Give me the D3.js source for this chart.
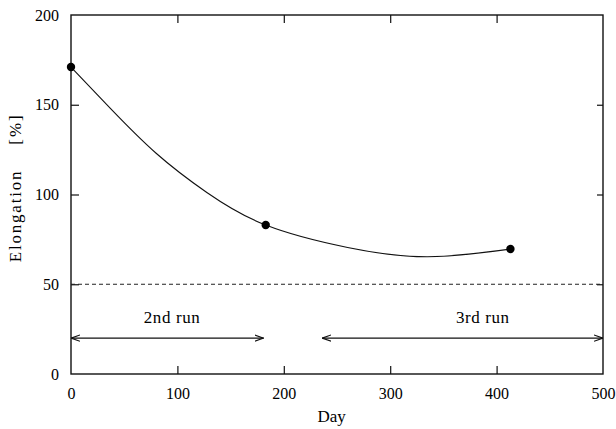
<!DOCTYPE html>
<html>
<head>
<meta charset="utf-8">
<script src="https://cdn.jsdelivr.net/npm/d3@7"></script>
<style>
  body { margin: 0; background: #fff; }
  text { font-family: "Liberation Serif", "DejaVu Serif", serif; fill: #000; }
</style>
</head>
<body>
<div id="chart-area"></div>
<script>
const FONT_SIZE = 16;

// measured points
const days = [0, 183, 413];
const elong = [171, 83, 69.6];

// fitted curve
const curveDays = [0, 37, 80, 128, 183, 260, 335, 413];
const curveElong = [171, 148, 123, 101, 83, 70.5, 65.3, 69.6];

const xTicks = [0, 100, 200, 300, 400, 500];
const yTicks = [0, 50, 100, 150, 200];

const limitValue = 50;
const runs = [
    {label: "2nd run", from: 0, to: 181, y: 20, labelAt: 95},
    {label: "3rd run", from: 236, to: 500, y: 20, labelAt: 387}
];

let totalWidth = 616, totalHeight = 429;
let margin = {top: 15, right: 13, bottom: 55, left: 71};
let width = totalWidth - margin.left - margin.right;
let height = totalHeight - margin.top - margin.bottom;

const svg = d3.select("#chart-area").append("svg")
    .attr("width", totalWidth)
    .attr("height", totalHeight);

svg.append("defs").append("marker")
    .attr("id", "head")
    .attr("viewBox", "0 0 10 10")
    .attr("refX", 10).attr("refY", 5)
    .attr("markerWidth", 9).attr("markerHeight", 9)
    .attr("markerUnits", "userSpaceOnUse")
    .attr("orient", "auto-start-reverse")
    .append("path")
    .attr("d", "M0,1.5 L10,5 L0,8.5")
    .attr("fill", "none")
    .attr("stroke", "#111")
    .attr("stroke-width", 1.3);

const g = svg.append("g").attr("transform", `translate(${margin.left},${margin.top})`);

const x = d3.scaleLinear().domain([0, 500]).range([0, width]);
const y = d3.scaleLinear().domain([0, 200]).range([height, 0]);

//Frame
g.append("rect")
    .attr("width", width).attr("height", height)
    .attr("fill", "none").attr("stroke", "#111").attr("stroke-width", 1.4);

//Axes with inner ticks
const xAxis = g.append("g").attr("transform", `translate(0,${height})`)
    .call(d3.axisBottom(x).tickValues(xTicks).tickSize(-8).tickPadding(14));
const xTop = g.append("g")
    .call(d3.axisTop(x).tickValues(xTicks.slice(1, -1)).tickSize(-8).tickFormat(""));
const yAxis = g.append("g")
    .call(d3.axisLeft(y).tickValues(yTicks).tickSize(-8).tickPadding(12));
const yRight = g.append("g").attr("transform", `translate(${width},0)`)
    .call(d3.axisRight(y).tickValues(yTicks.slice(1, -1)).tickSize(-6).tickFormat(""));

[xAxis, xTop, yAxis, yRight].forEach(a => {
    a.select(".domain").remove();
    a.selectAll(".tick line").attr("stroke", "#111").attr("stroke-width", 1.2);
    a.selectAll(".tick text").attr("font-size", `${FONT_SIZE}px`)
        .attr("font-family", "Liberation Serif").attr("fill", "#000");
});
// the corner ticks overlap the frame
xAxis.selectAll(".tick").filter(d => d === 0 || d === 500).select("line").remove();
yAxis.selectAll(".tick").filter(d => d === 0 || d === 200).select("line").remove();

//Dashed limit line
g.append("line")
    .attr("x1", 0).attr("x2", width)
    .attr("y1", y(limitValue)).attr("y2", y(limitValue))
    .attr("stroke", "#222").attr("stroke-width", 1)
    .attr("stroke-dasharray", "4,3");

//Run arrows
runs.forEach(r => {
    g.append("line")
        .attr("x1", x(r.from)).attr("x2", x(r.to))
        .attr("y1", y(r.y)).attr("y2", y(r.y))
        .attr("stroke", "#111").attr("stroke-width", 1.2)
        .attr("marker-start", "url(#head)")
        .attr("marker-end", "url(#head)");
    g.append("text")
        .attr("x", x(r.labelAt))
        .attr("y", y(r.y) - 15)
        .attr("text-anchor", "middle")
        .attr("font-size", "17px")
        .attr("letter-spacing", "0.6px")
        .text(r.label);
});

//Curve
const line = d3.line()
    .x(d => x(d[0])).y(d => y(d[1]))
    .curve(d3.curveNatural);
g.append("path")
    .datum(d3.zip(curveDays, curveElong))
    .attr("d", line)
    .attr("fill", "none").attr("stroke", "#111").attr("stroke-width", 1.1);

//Points
g.selectAll("circle.pt")
    .data(d3.zip(days, elong))
    .join("circle")
    .attr("class", "pt")
    .attr("cx", d => x(d[0])).attr("cy", d => y(d[1]))
    .attr("r", 4.2).attr("fill", "#000");

//Labels
svg.append("text")
    .attr("x", margin.left + x(245))
    .attr("y", 422)
    .attr("text-anchor", "middle")
    .attr("font-size", `${FONT_SIZE + 1}px`)
    .text("Day");

svg.append("text")
    .attr("transform", "translate(21,216) rotate(-90)")
    .attr("text-anchor", "middle")
    .attr("font-size", "17px")
    .attr("letter-spacing", "1.8px")
    .text("Elongation");

svg.append("text")
    .attr("transform", "translate(21,129) rotate(-90)")
    .attr("text-anchor", "middle")
    .attr("font-size", "17px")
    .attr("letter-spacing", "2px")
    .text("[%]");
</script>
</body>
</html>
